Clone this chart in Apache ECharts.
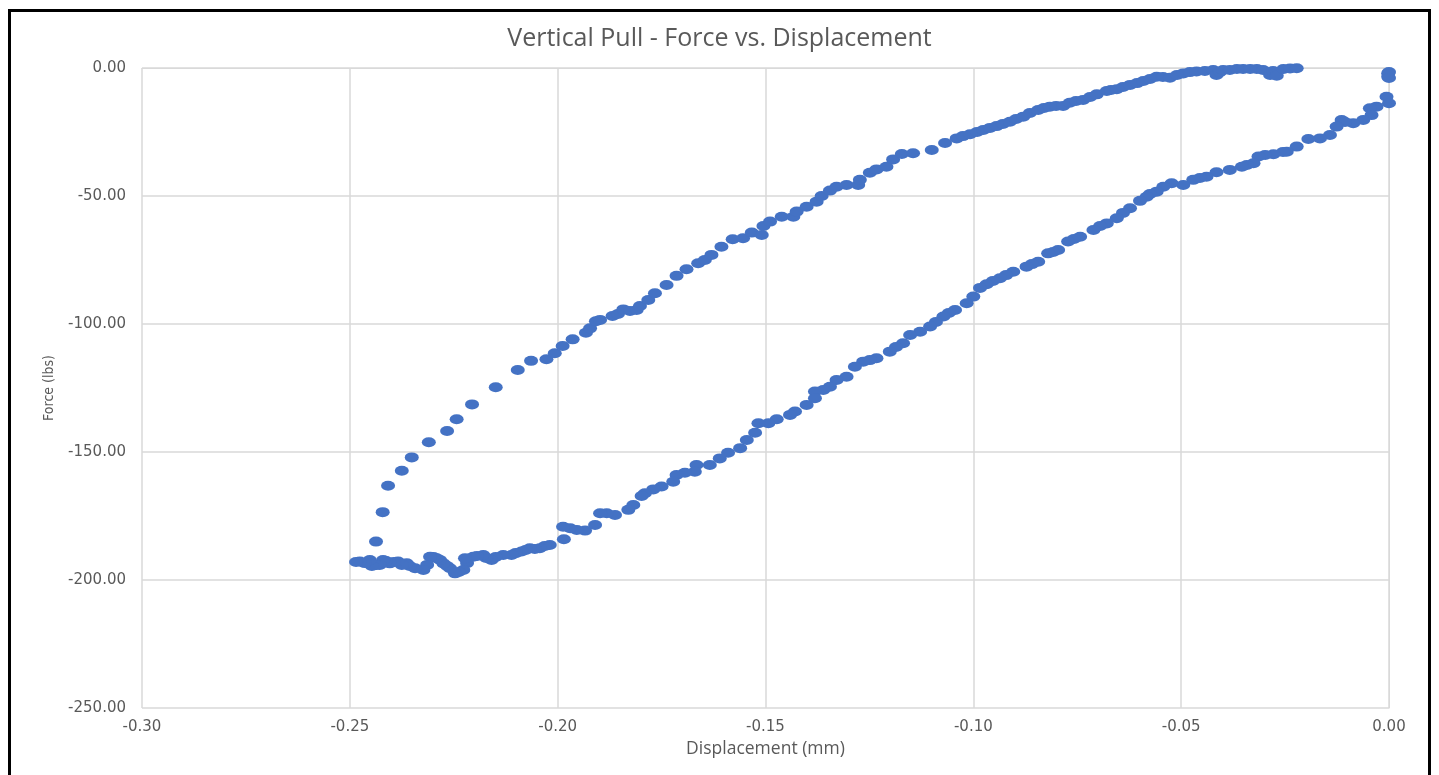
<!DOCTYPE html>
<html>
<head>
<meta charset="utf-8">
<script src="https://cdn.jsdelivr.net/npm/echarts@6/dist/echarts.min.js"></script>
<style>
html,body{margin:0;padding:0;background:#fff;}
#chart{width:1439px;height:775px;}
</style>
</head>
<body>
<div id="chart"></div>
<script>
// Displacement (mm), Force (lbs) — upper (loading) branch
var upperDisp = [-0.2437,-0.2421,-0.2408,-0.2375,-0.2351,-0.2310,-0.2266,-0.2243,-0.2206,-0.2149,-0.2096,-0.2064,-0.2027,-0.2007,-0.1988,-0.1964,-0.1932,-0.1922,-0.1908,-0.1898,-0.1868,-0.1855,-0.1842,-0.1826,-0.1810,-0.1802,-0.1782,-0.1766,-0.1738,-0.1714,-0.1690,-0.1662,-0.1646,-0.1630,-0.1606,-0.1579,-0.1554,-0.1533,-0.1509,-0.1505,-0.1489,-0.1461,-0.1433,-0.1425,-0.1401,-0.1377,-0.1365,-0.1345,-0.1329,-0.1305,-0.1277,-0.1273,-0.1249,-0.1233,-0.1209,-0.1193,-0.1172,-0.1145,-0.1100,-0.1068,-0.1040,-0.1025,-0.1008,-0.0991,-0.0976,-0.0960,-0.0944,-0.0929,-0.0912,-0.0897,-0.0880,-0.0864,-0.0844,-0.0830,-0.0816,-0.0801,-0.0784,-0.0768,-0.0753,-0.0736,-0.0719,-0.0703,-0.0679,-0.0669,-0.0655,-0.0640,-0.0623,-0.0606,-0.0591,-0.0575,-0.0559,-0.0544,-0.0527,-0.0510,-0.0495,-0.0479,-0.0463,-0.0443,-0.0423,-0.0415,-0.0407,-0.0399,-0.0383,-0.0366,-0.0351,-0.0334,-0.0318,-0.0303,-0.0286,-0.0279,-0.0270,-0.0254,-0.0238,-0.0222];
var upperForce = [-185.0,-173.5,-163.2,-157.3,-152.1,-146.2,-141.8,-137.2,-131.4,-124.7,-118.0,-114.4,-113.8,-111.4,-108.6,-106.0,-103.4,-101.7,-98.9,-98.4,-96.9,-96.1,-94.3,-94.9,-94.5,-93.0,-90.6,-88.0,-84.8,-81.2,-78.6,-76.3,-75.0,-73.0,-69.8,-66.9,-66.5,-64.3,-65.2,-61.7,-60.0,-58.1,-58.1,-56.1,-54.2,-52.2,-50.0,-47.9,-46.4,-45.7,-45.7,-43.7,-40.9,-39.6,-38.6,-35.7,-33.6,-33.3,-32.0,-29.3,-27.5,-26.6,-25.9,-25.0,-24.2,-23.4,-22.7,-21.9,-21.0,-19.9,-19.0,-17.6,-16.4,-15.6,-15.1,-14.8,-14.8,-13.6,-12.9,-12.5,-11.3,-10.3,-9.0,-8.6,-8.3,-7.4,-6.6,-5.9,-5.1,-4.3,-3.4,-3.5,-3.8,-2.7,-2.1,-1.6,-1.4,-1.2,-0.8,-2.7,-1.6,-0.8,-0.8,-0.4,-0.4,-0.4,-0.4,-0.8,-2.7,-1.2,-3.0,-0.4,-0.2,-0.1];

// Turnaround at zero displacement
var edgeDisp = [-0.0002,-0.0002,0.0000,0.0000,-0.0006,0.0000];
var edgeForce = [-2.1,-3.4,-1.6,-3.9,-11.2,-13.8];

// Lower (unloading) branch
var lowerDisp = [-0.0030,-0.0046,-0.0042,-0.0062,-0.0086,-0.0114,-0.0106,-0.0126,-0.0142,-0.0166,-0.0194,-0.0222,-0.0246,-0.0255,-0.0278,-0.0298,-0.0314,-0.0326,-0.0342,-0.0354,-0.0383,-0.0415,-0.0439,-0.0455,-0.0471,-0.0495,-0.0523,-0.0543,-0.0559,-0.0575,-0.0583,-0.0599,-0.0623,-0.0640,-0.0655,-0.0679,-0.0695,-0.0711,-0.0743,-0.0758,-0.0772,-0.0796,-0.0808,-0.0820,-0.0844,-0.0859,-0.0872,-0.0904,-0.0921,-0.0936,-0.0953,-0.0968,-0.0984,-0.1000,-0.1016,-0.1044,-0.1059,-0.1072,-0.1090,-0.1104,-0.1128,-0.1152,-0.1169,-0.1186,-0.1201,-0.1233,-0.1249,-0.1265,-0.1285,-0.1305,-0.1329,-0.1345,-0.1361,-0.1381,-0.1381,-0.1401,-0.1429,-0.1441,-0.1473,-0.1493,-0.1517,-0.1525,-0.1545,-0.1561,-0.1590,-0.1610,-0.1634,-0.1666,-0.1670,-0.1694,-0.1714,-0.1722,-0.1750,-0.1770,-0.1790,-0.1798,-0.1818,-0.1830,-0.1862,-0.1882,-0.1898,-0.1910,-0.1934,-0.1954,-0.1970,-0.1987,-0.1985,-0.2019,-0.2031,-0.2043,-0.2055,-0.2067,-0.2077,-0.2087,-0.2101,-0.2111,-0.2131,-0.2149,-0.2159,-0.2172,-0.2179,-0.2194,-0.2203,-0.2218,-0.2223,-0.2227,-0.2238,-0.2247,-0.2259,-0.2266,-0.2275,-0.2283,-0.2291,-0.2299,-0.2307,-0.2314,-0.2323,-0.2343,-0.2356,-0.2363,-0.2375,-0.2384,-0.2394,-0.2404,-0.2413,-0.2420,-0.2428,-0.2436,-0.2447,-0.2452,-0.2464,-0.2476,-0.2485];
var lowerForce = [-15.1,-15.7,-18.4,-20.3,-21.6,-20.3,-21.1,-22.9,-26.2,-27.5,-27.7,-30.7,-32.7,-32.8,-33.7,-34.0,-34.6,-37.2,-37.9,-38.6,-39.8,-40.7,-42.5,-43.0,-43.7,-45.7,-45.0,-46.4,-48.3,-49.2,-50.3,-51.9,-54.8,-56.6,-58.7,-60.7,-61.7,-63.3,-65.9,-66.8,-67.8,-71.1,-71.9,-72.4,-75.7,-76.6,-77.6,-79.6,-80.9,-82.1,-83.2,-84.5,-85.9,-89.3,-91.9,-94.5,-95.7,-97.1,-99.2,-101.0,-103.0,-104.3,-107.5,-109.0,-110.8,-113.4,-114.1,-114.7,-116.7,-120.6,-121.9,-124.5,-125.8,-126.4,-129.0,-131.6,-134.2,-135.5,-137.2,-138.8,-138.8,-142.5,-145.3,-148.5,-150.3,-152.5,-155.1,-155.1,-157.7,-158.1,-159.0,-161.6,-163.5,-164.6,-166.1,-167.2,-170.7,-172.6,-174.6,-173.9,-173.9,-178.5,-180.7,-180.5,-179.8,-179.2,-184.1,-186.3,-186.7,-187.6,-187.9,-187.6,-188.3,-188.9,-189.5,-190.2,-190.2,-191.0,-192.2,-191.4,-190.2,-190.6,-190.9,-193.4,-191.5,-196.1,-196.9,-197.4,-195.4,-194.5,-193.5,-192.2,-191.5,-191.0,-190.9,-194.1,-196.1,-195.4,-194.5,-193.5,-194.1,-192.8,-193.0,-193.5,-192.6,-192.2,-194.1,-194.1,-194.5,-192.2,-193.4,-192.8,-193.0];

var xTicks = {min: -0.30, max: 0.00, step: 0.05};
var yTicks = {min: -250, max: 0, step: 50};

function pairs(xs, ys){ var out=[]; for(var i=0;i<xs.length;i++){ out.push([xs[i], ys[i]]); } return out; }
var allData = pairs(upperDisp, upperForce).concat(pairs(edgeDisp, edgeForce)).concat(pairs(lowerDisp, lowerForce));

var chart = echarts.init(document.getElementById('chart'), null, {renderer:'canvas'});
var fontFam = '"DejaVu Sans", "Open Sans", sans-serif';
function fmt(v){ return (Math.abs(v) < 1e-9 ? 0 : v).toFixed(2); }
chart.setOption({
  animation: false,
  backgroundColor: '#ffffff',
  title: {
    text: 'Vertical Pull - Force vs. Displacement',
    left: 'center', top: 21,
    textStyle: {color: '#595959', fontSize: 25, fontWeight: 'normal', fontFamily: '"Open Sans", sans-serif'}
  },
  grid: {left: 142, right: 50, top: 68, bottom: 67, containLabel: false},
  xAxis: {
    type: 'value', min: xTicks.min, max: xTicks.max, interval: xTicks.step,
    name: 'Displacement (mm)', nameLocation: 'middle', nameGap: 32,
    nameTextStyle: {color: '#595959', fontSize: 17.5, fontFamily: '"Open Sans", sans-serif'},
    axisLine: {show: true, lineStyle: {color: '#d9d9d9', width: 1}},
    axisTick: {show: false},
    axisLabel: {color: '#595959', fontSize: 15, fontFamily: fontFam, margin: 12, formatter: fmt},
    splitLine: {show: true, lineStyle: {color: '#d9d9d9', width: 1.5}}
  },
  yAxis: {
    type: 'value', min: yTicks.min, max: yTicks.max, interval: yTicks.step,
    name: 'Force (lbs)', nameLocation: 'middle', nameGap: 86, nameRotate: 90,
    nameTextStyle: {color: '#595959', fontSize: 14, fontFamily: '"DejaVu Sans Condensed", "Liberation Sans Narrow", sans-serif'},
    axisLine: {show: true, lineStyle: {color: '#d9d9d9', width: 1}},
    axisTick: {show: false},
    axisLabel: {color: '#595959', fontSize: 15, fontFamily: fontFam, margin: 16, formatter: fmt},
    splitLine: {show: true, lineStyle: {color: '#d9d9d9', width: 1.5}}
  },
  graphic: [{
    type: 'rect', silent: true, z: 100,
    shape: {x: 9.5, y: 10.5, width: 1420, height: 800},
    style: {fill: 'none', stroke: '#000000', lineWidth: 3}
  }],
  series: [{
    type: 'scatter',
    data: allData,
    symbol: 'circle',
    symbolSize: [14, 10],
    itemStyle: {color: '#4472C4', opacity: 1},
    emphasis: {disabled: true}
  }]
});
</script>
</body>
</html>
